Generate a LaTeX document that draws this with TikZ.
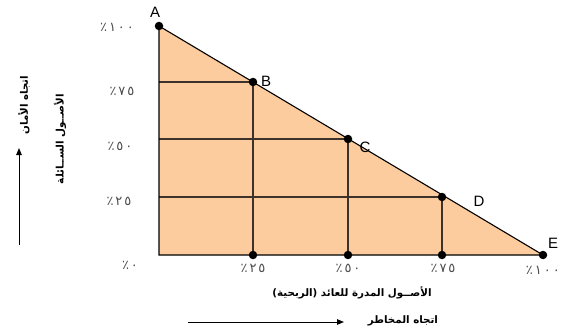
\documentclass[tikz,border=0pt]{standalone}
\usepackage{fontspec}
\usetikzlibrary{arrows.meta}
\TeXXeTstate=1
\newfontfamily\arabicfont[Script=Arabic]{DejaVu Sans}
\newfontfamily\digitfont{DejaVu Sans}
\setmainfont{Liberation Sans}
\definecolor{peach}{RGB}{252,204,158}
\definecolor{gridline}{RGB}{60,50,42}
\newcommand{\dg}{\hspace{2pt}}
\tikzset{
  dotpt/.style={circle,fill=black,inner sep=0pt,minimum width=8.5pt,minimum height=7.5pt},
  ptlabel/.style={font=\fontsize{15}{15}\selectfont,inner sep=0pt},
  pct/.style={font=\digitfont\fontsize{13}{13}\selectfont,text=black!70,inner sep=0pt},
  arlabel/.style={font=\arabicfont\bfseries\fontsize{10.3}{11}\selectfont,inner sep=0pt},
  gridl/.style={draw=gridline,line width=1.5pt},
  dirarrow/.style={-{Triangle[length=7pt,width=5.5pt]},line width=1pt}
}
\begin{document}
\begin{tikzpicture}[x=1pt,y=-1pt]
\useasboundingbox (0,0) rectangle (561,331);
% triangle
\coordinate (O) at (159,255);
\coordinate (A) at (159,26);
\coordinate (E) at (543,255);
\coordinate (B) at (253,82);
\coordinate (C) at (348,139);
\coordinate (D) at (442,197);
\coordinate (Bb) at (253,255);
\coordinate (Cb) at (348,255);
\coordinate (Db) at (442,255);
\coordinate (Bl) at (159,82);
\coordinate (Cl) at (159,139);
\coordinate (Dl) at (159,197);
\fill[peach] (A) -- (E) -- (O) -- cycle;
\draw[gridl] (Bl) -- (B) -- (Bb);
\draw[gridl] (Cl) -- (C) -- (Cb);
\draw[gridl] (Dl) -- (D) -- (Db);
\draw[black,line width=1.1pt] (A) -- (E) -- (O) -- cycle;
% dots
\foreach \p in {A,B,C,D,E,Bb,Cb,Db} \node[dotpt] (d\p) at (\p) {};
% letters
\node[ptlabel] (lA) at (155,12) {A};
\node[ptlabel] (lB) at (266,81) {B};
\node[ptlabel] (lC) at (365,147) {C};
\node[ptlabel] (lD) at (479,201) {D};
\node[ptlabel] (lE) at (553,243) {E};
% y labels
\node[pct] (y100) at (117,27) {٪\dg١\dg٠\dg٠};
\node[pct] (y75) at (122,91) {٪\dg٧\dg٥};
\node[pct] (y50) at (120,146) {٪\dg٥\dg٠};
\node[pct] (y25) at (119,201) {٪\dg٢\dg٥};
\node[pct] (y0) at (130,265) {٪\dg٠};
% x labels
\node[pct] (x25) at (253,268) {٪\dg٢\dg٥};
\node[pct] (x50) at (348,268) {٪\dg٥\dg٠};
\node[pct] (x75) at (443,268) {٪\dg٧\dg٥};
\node[pct,anchor=east] (x100) at (560,270) {٪\dg١\dg٠\dg٠};
% axis titles
\node[arlabel] (xt) at (352,293) {\beginR الأصــول المدرة للعائد (الربحية)\endR};
\node[arlabel] (xr) at (403,321) {\beginR اتجاه المخاطر\endR};
\coordinate (xs) at (188,322);
\coordinate (xe) at (344,322);
\draw[dirarrow] (xs) -- (xe);
\node[arlabel,rotate=90] (yr) at (24,105) {\beginR اتجاه الأمان\endR};
\node[arlabel,rotate=90] (yt) at (60,139) {\beginR الأصــول الســائلة\endR};
\coordinate (ys) at (19,245);
\coordinate (ye) at (19,148);
\draw[dirarrow] (ys) -- (ye);
\end{tikzpicture}
\end{document}
